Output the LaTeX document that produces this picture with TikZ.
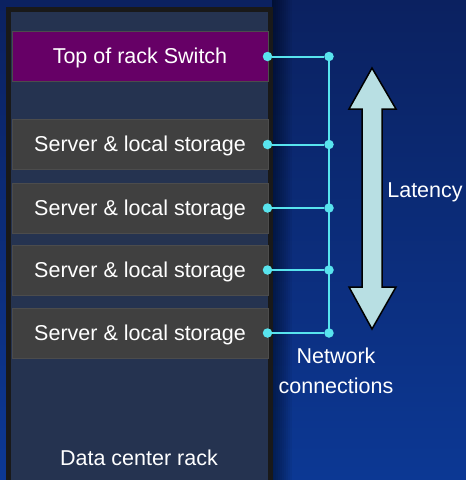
\documentclass[tikz,border=0pt]{standalone}
\usepackage{fontspec}
\setmainfont{Liberation Sans}
\definecolor{bgtop}{HTML}{0B2160}
\definecolor{bgbottom}{HTML}{0C3894}
\definecolor{rackfill}{HTML}{253350}
\definecolor{switchpurple}{HTML}{660066}
\definecolor{servergray}{HTML}{404040}
\definecolor{netcyan}{HTML}{58E4EE}
\definecolor{latencyfill}{HTML}{B8DFE3}
\begin{document}
\begin{tikzpicture}[x=1pt,y=-1pt,
  every node/.style={text=white,font=\fontsize{21.5}{30}\selectfont},
  unit/.style={draw=black!70,line width=1pt,minimum width=256pt,minimum height=50pt,inner sep=0pt,text depth=1pt},
  link/.style={netcyan,line width=2pt},
  dot/.style={circle,fill=netcyan,inner sep=0pt,minimum size=9.5pt}]
  \useasboundingbox (0,0) rectangle (466,480);
  % background
  \shade[top color=bgtop,bottom color=bgbottom] (0,0) rectangle (466,480);
  \foreach \i in {0,...,9}{
    \fill[black,opacity=0.05] (272,0) rectangle ({292-2*\i},480);
  }
  % rack
  \draw[black!90,line width=5pt,fill=rackfill] (8.5,9.5) rectangle (270.5,495);
  \node (rack) at (139,458) {Data center rack};
  \node[unit,fill=switchpurple] (switch) at (140,56.5) {Top of rack Switch};
  \foreach \y/\n in {144.5/1,208/2,270/3,333/4}{
    \node[unit,fill=servergray] (server\n) at (140,\y) {Server \& local storage};
  }
  % network connections
  \coordinate (bus top) at (329,56.5);
  \coordinate (bus bottom) at (329,333);
  \draw[link,line width=1.6pt] (bus top) -- (bus bottom);
  \foreach \n in {switch,server1,server2,server3,server4}{
    \node[dot] (\n-port) at ([xshift=-1pt]\n.east) {};
    \node[dot] (\n-bus) at (\n-port -| bus top) {};
    \draw[link] (\n-port) -- (\n-bus);
  }
  \node[align=center] (net) at (336,371) {Network\\connections};
  % latency arrow
  \draw[black,line width=1.5pt,fill=latencyfill,line join=miter]
    (372,68) -- (396,109) -- (382,109) -- (382,287) -- (396,287) -- (372,329)
    -- (349,287) -- (362,287) -- (362,109) -- (349,109) -- cycle;
  \node (latency) at (425,192) {Latency};
\end{tikzpicture}
\end{document}
